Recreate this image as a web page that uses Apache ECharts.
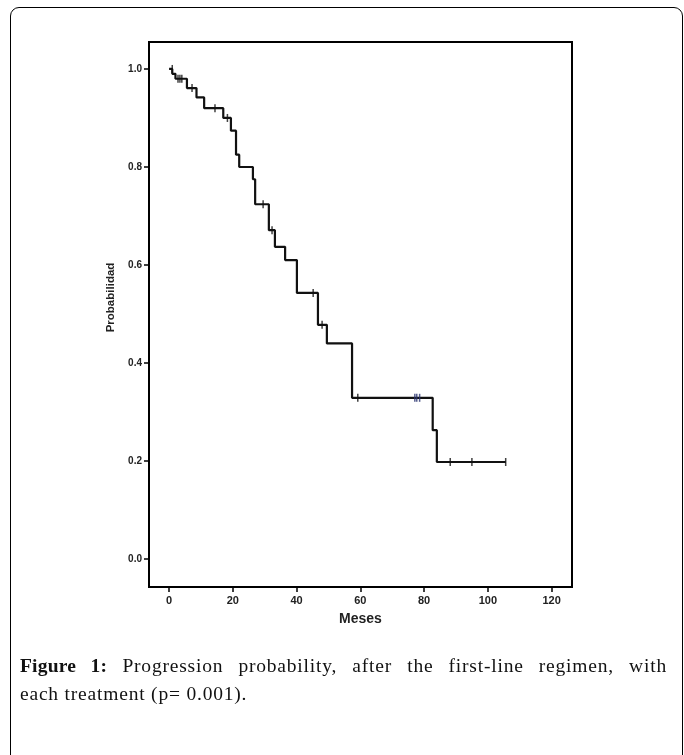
<!DOCTYPE html>
<html>
<head>
<meta charset="utf-8">
<script src="https://cdn.jsdelivr.net/npm/echarts@6/dist/echarts.min.js"></script>
<style>
  html, body { margin: 0; padding: 0; background: #fff; }
  #wrap { position: relative; width: 684px; height: 755px; overflow: hidden; }
  #frame {
    position: absolute; left: 10px; top: 7px; width: 671px; height: 800px;
    border: 1.5px solid #000; border-radius: 9px;
  }
  #chart { position: absolute; left: 0; top: 0; width: 684px; height: 755px; }
  #caption {
    position: absolute; left: 20px; top: 652px; width: 647px;
    font-family: "Liberation Serif", "DejaVu Serif", serif; font-size: 19.5px;
    letter-spacing: 0.8px; line-height: 28px; color: #111;
  }
  #caption .l1 { display: block; text-align: justify; text-align-last: justify; }
  #caption b { font-weight: bold; letter-spacing: 0.2px; }
</style>
</head>
<body>
<div id="wrap">
  <div id="frame"></div>
  <div id="chart"></div>
  <div id="caption">
    <span class="l1"><b>Figure 1:</b> Progression probability, after the first-line regimen, with</span>
    <span>each treatment (p= 0.001).</span>
  </div>
</div>
<script>
// Kaplan-Meier steps: time (months) and probability after each event
const kmTimes = [0, 1.0, 2.0, 5.6, 8.6, 11.0, 17.0, 19.4, 21.0, 22.0, 26.3, 27.0, 31.3, 33.2, 36.4, 40.1, 46.7, 49.5, 57.4, 82.7, 84.0, 105.6];
const kmProbs = [1.0, 0.990, 0.980, 0.961, 0.942, 0.920, 0.900, 0.874, 0.825, 0.800, 0.775, 0.724, 0.671, 0.637, 0.610, 0.543, 0.478, 0.440, 0.329, 0.263, 0.198, 0.198];

// censored cases
const censorTimes = [1.0, 2.8, 3.4, 4.0, 7.2, 14.4, 18.3, 29.5, 32.3, 45.2, 48.0, 59.2, 88.2, 95.0, 105.6];
const censorProbs = [1.0, 0.980, 0.980, 0.980, 0.961, 0.920, 0.900, 0.724, 0.671, 0.543, 0.478, 0.329, 0.198, 0.198, 0.198];
const censorBlueTimes = [77.1, 77.7, 78.6];
const censorBlueProbs = [0.329, 0.329, 0.329];

const xTicks = [0, 20, 40, 60, 80, 100, 120];
const yTicks = [0, 0.2, 0.4, 0.6, 0.8, 1.0];

const chart = echarts.init(document.getElementById('chart'));

const tickFont = {
  fontFamily: '"Liberation Sans Narrow", "Liberation Sans", sans-serif',
  fontWeight: 'bold',
  fontSize: 11,
  color: '#222'
};

let option = {
  animation: false,
  backgroundColor: 'transparent',
  grid: {
    left: 149, right: 112, top: 42, bottom: 168,
    show: true, borderColor: '#000', borderWidth: 2
  },
  xAxis: {
    type: 'value',
    min: -6.3, max: 126.4,
    name: 'Meses',
    nameLocation: 'middle',
    nameGap: 25,
    nameTextStyle: {
      fontFamily: '"Liberation Sans Narrow", "Liberation Sans", sans-serif',
      fontWeight: 'bold', fontSize: 14, color: '#222'
    },
    axisLine: { onZero: false, lineStyle: { color: '#000', width: 2 } },
    axisTick: { show: true, length: 5, customValues: xTicks, lineStyle: { color: '#000', width: 1.5 } },
    axisLabel: Object.assign({ customValues: xTicks, margin: 8 }, tickFont),
    splitLine: { show: false }
  },
  yAxis: {
    type: 'value',
    min: -0.057, max: 1.055,
    name: 'Probabilidad',
    nameLocation: 'middle',
    nameRotate: 90,
    nameGap: 19,
    nameTextStyle: {
      fontFamily: '"Liberation Sans", Arial, sans-serif',
      fontWeight: 'bold', fontSize: 11.5, color: '#222',
      padding: [0, 0, 0, 34]
    },
    axisLine: { show: true, onZero: false, lineStyle: { color: '#000', width: 2 } },
    axisTick: { show: true, length: 5, customValues: yTicks, lineStyle: { color: '#000', width: 1.5 } },
    axisLabel: Object.assign({
      customValues: yTicks, margin: 7,
      formatter: v => v.toFixed(1)
    }, tickFont, { fontSize: 10 }),
    splitLine: { show: false }
  },
  series: [
    {
      type: 'line',
      step: 'end',
      data: kmTimes.map((t, i) => [t, kmProbs[i]]),
      showSymbol: false,
      lineStyle: { color: '#111', width: 2.2 },
      z: 2
    },
    {
      type: 'scatter',
      data: censorTimes.map((t, i) => [t, censorProbs[i]]),
      symbol: 'rect',
      symbolSize: [1.5, 8],
      itemStyle: { color: '#111' },
      z: 3
    },
    {
      type: 'scatter',
      data: censorBlueTimes.map((t, i) => [t, censorBlueProbs[i]]),
      symbol: 'rect',
      symbolSize: [1.5, 8],
      itemStyle: { color: '#2a3470' },
      z: 3
    }
  ]
};

option && chart.setOption(option);
</script>
</body>
</html>
